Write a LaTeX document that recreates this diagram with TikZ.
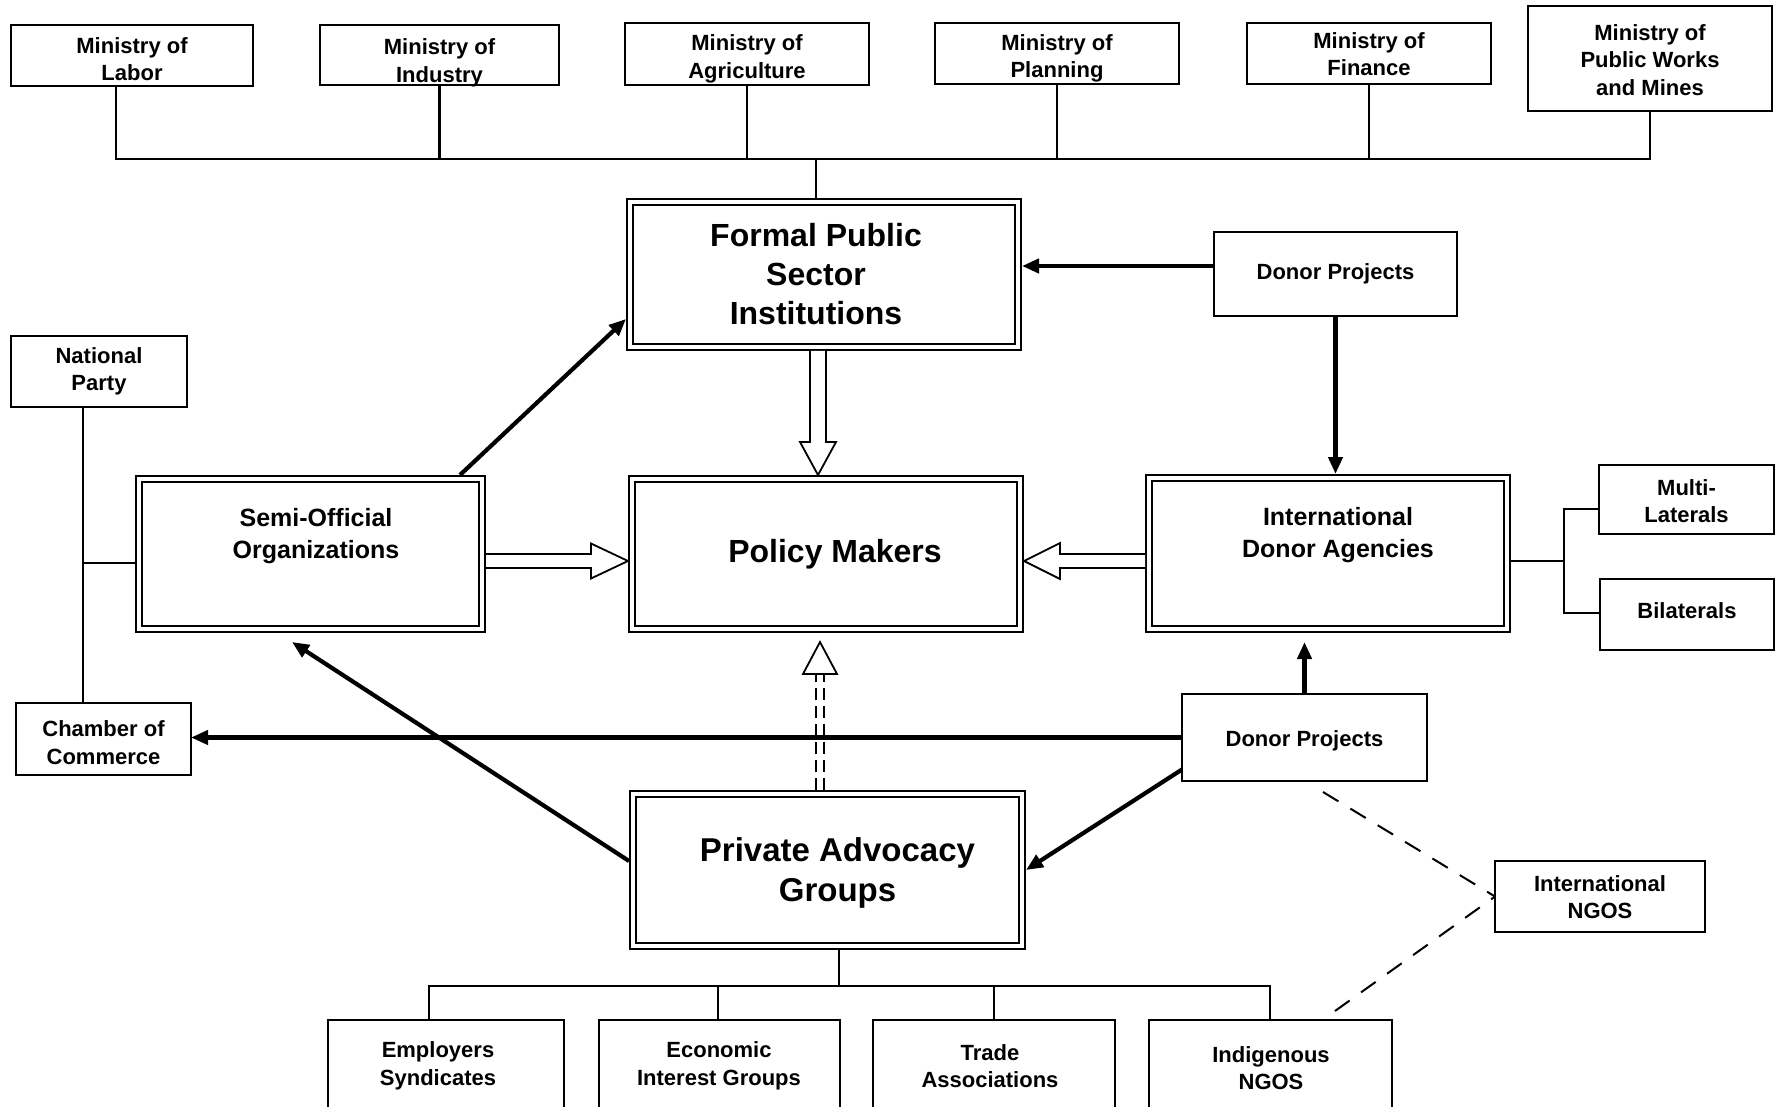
\documentclass[tikz,border=0pt]{standalone}
\usepackage{fontspec}
\setmainfont{Liberation Sans}
\usetikzlibrary{arrows.meta,calc}
\newcommand\fsmall{\fontsize{22}{27.5}\selectfont\bfseries}
\newcommand\fmed{\fontsize{25}{32}\selectfont\bfseries}
\newcommand\fbig{\fontsize{32}{39}\selectfont\bfseries}
\newcommand\fpag{\fontsize{33}{40}\selectfont\bfseries}
\newcommand\lowt[2]{\raisebox{-#1}[\height][\depth]{\begin{tabular}{@{}c@{}}#2\end{tabular}}}
\begin{document}
\begin{tikzpicture}[x=1pt,y=-1pt,
  box/.style={draw, line width=2.4pt, rectangle, inner sep=0pt, outer sep=0pt, align=center, font=\fsmall},
  dbox/.style={draw, line width=2pt, double, double distance=4pt, rectangle, inner sep=0pt, outer sep=4pt, align=center},
  lbl/.style={inner sep=0pt, align=center},
  conn/.style={line width=2.4pt},
  thinline/.style={line width=1.6pt},
  sarrow/.style={line width=4.2pt, -{Triangle[length=17pt,width=14pt]}},
  hollow/.style={line width=1.8pt, fill=white, line join=miter},
  dline/.style={line width=2pt, dash pattern=on 18pt off 14pt},
  ddline/.style={line width=2pt, dash pattern=on 12pt off 6pt},
]
\useasboundingbox[fill=white] (0,0) rectangle (1781,1107);

% ministries
\node[box, minimum width=242pt, minimum height=61pt] (labor) at (132,55.5) {\lowt{6pt}{Ministry of\\Labor}};
\node[box, minimum width=239pt, minimum height=60pt] (industry) at (439.5,55) {\lowt{8pt}{Ministry of\\Industry}};
\node[box, minimum width=244pt, minimum height=62pt] (agri) at (747,54) {\lowt{5pt}{Ministry of\\Agriculture}};
\node[box, minimum width=244pt, minimum height=61pt] (planning) at (1057,53.5) {\lowt{5pt}{Ministry of\\Planning}};
\node[box, minimum width=244pt, minimum height=61pt] (finance) at (1369,53.5) {\lowt{3pt}{Ministry of\\Finance}};
\node[box, minimum width=244pt, minimum height=105pt] (pubworks) at (1650,58.5) {\lowt{4pt}{Ministry of\\Public Works\\and Mines}};

% main boxes
\node[dbox, minimum width=388pt, minimum height=145pt, font=\fbig] (formal) at (824,274.5) {\lowt{3pt}{Formal Public\\Sector\\Institutions}\hspace*{16pt}};
\node[dbox, minimum width=388pt, minimum height=150pt, font=\fbig] (policy) at (826,554) {\hspace*{18pt}Policy Makers};
\node[dbox, minimum width=343pt, minimum height=150pt] (semi) at (310.5,554) {};
\node[lbl, font=\fmed] (semit) at (316,536) {Semi-Official\\Organizations};
\node[dbox, minimum width=358pt, minimum height=151pt] (ida) at (1328,553.5) {};
\node[lbl, font=\fmed] (idat) at (1338,535) {International\\Donor Agencies};
\node[dbox, minimum width=389pt, minimum height=152pt, font=\fpag] (pag) at (827.5,870) {\hspace*{20pt}\lowt{3pt}{Private Advocacy\\Groups}};

% small boxes
\node[box, minimum width=243pt, minimum height=84pt] (dp1) at (1335.5,274) {Donor Projects};
\node[box, minimum width=176pt, minimum height=71pt] (natparty) at (99,371.5) {National\\Party};
\node[box, minimum width=175pt, minimum height=72pt] (chamber) at (103.5,739) {\lowt{6pt}{Chamber of\\Commerce}};
\node[box, minimum width=175pt, minimum height=69pt] (multi) at (1686.5,499.5) {\lowt{4pt}{Multi-\\Laterals}};
\node[box, minimum width=174pt, minimum height=71pt] (bil) at (1687,614.5) {\lowt{-2pt}{Bilaterals}};
\node[box, minimum width=245pt, minimum height=87pt] (dp2) at (1304.5,737.5) {\lowt{3pt}{Donor Projects}};
\node[box, minimum width=210pt, minimum height=71pt] (ngos) at (1600,896.5) {\lowt{3pt}{International\\NGOS}};

% bottom boxes
\node[box, minimum width=236pt, minimum height=105pt] (emp) at (446,1072.5) {};
\node[lbl, font=\fsmall] (empt) at (438,1066) {Employers\\Syndicates};
\node[box, minimum width=241pt, minimum height=105pt] (eco) at (719.5,1072.5) {};
\node[lbl, font=\fsmall] (ecot) at (719,1066) {Economic\\Interest Groups};
\node[box, minimum width=242pt, minimum height=105pt] (trade) at (994,1072.5) {};
\node[lbl, font=\fsmall] (tradet) at (990,1066) {Trade\\Associations};
\node[box, minimum width=243pt, minimum height=105pt] (indig) at (1270.5,1072.5) {};
\node[lbl, font=\fsmall] (indigt) at (1271,1068) {Indigenous\\NGOS};

% ministry bus
\coordinate (busL) at (116,159);
\coordinate (busR) at (1650,159);
\coordinate (busF) at (816,159);
\draw[conn] (busL |- labor.south) -- (busL) -- (busR) -- (pubworks.south);
\draw[conn] (industry.south) -- (industry.south |- busL);
\draw[conn] (agri.south) -- (agri.south |- busL);
\draw[conn] (planning.south) -- (planning.south |- busL);
\draw[conn] (finance.south) -- (finance.south |- busL);
\draw[conn] (busF) -- (busF |- formal.north);

% national party - chamber
\coordinate (npx) at (83,563);
\draw[conn] (npx |- natparty.south) -- (npx |- chamber.north);
\draw[thinline] (npx) -- (npx -| semi.west);

% ida - multi/bilaterals
\coordinate (idaj) at (1564,561);
\coordinate (mj) at (1564,509);
\coordinate (bj) at (1564,613);
\draw[thinline] (idaj -| ida.east) -- (idaj);
\draw[conn] (mj -| multi.west) -- (mj) -- (bj) -- (bj -| bil.west);

% pag bus
\coordinate (pb) at (839,986);
\coordinate (pbL) at (429,986);
\coordinate (pbR) at (1270,986);
\coordinate (pe) at (718,986);
\draw[conn] (pb |- pag.south) -- (pb);
\draw[conn] (pbL |- emp.north) -- (pbL) -- (pbR) -- (pbR |- indig.north);
\draw[conn] (pe) -- (pe |- eco.north);
\draw[conn] (trade.north |- pbL) -- (trade.north);

% solid arrows
\coordinate (dp1a) at ($(dp1.west)+(0,-8)$);
\draw[sarrow] (dp1a) -- (dp1a -| formal.east);
\draw[sarrow] (dp1.south) -- (dp1.south |- ida.north);
\draw[sarrow] ($(semi.north west)+(325,0)$) -- ($(formal.west)+(0,44.5)$);
\draw[sarrow] ($(pag.west)+(0,-9)$) -- ($(semi.south west)+(157,9)$);
\draw[sarrow] (dp2.west) -- (dp2.west -| chamber.east);
\draw[sarrow] ($(dp2.west)+(0,32)$) -- (pag.east);
\coordinate (dp2t) at ($(dp2.north |- ida.south)+(0,9)$);
\draw[sarrow] (dp2.north) -- (dp2t);

% hollow block arrows
\coordinate (ax) at (818,0);
\coordinate (fA) at (ax |- formal.south);
\coordinate (fB) at (ax |- policy.north);
\draw[hollow] ($(fA)+(-8,0)$) -- ($(fB)+(-8,-33)$) -- ($(fB)+(-18,-33)$) -- (fB)
  -- ($(fB)+(18,-33)$) -- ($(fB)+(8,-33)$) -- ($(fA)+(8,0)$);

\coordinate (sA) at ($(semi.east)+(0,7)$);
\coordinate (sB) at (sA -| policy.west);
\draw[hollow] ($(sA)+(0,-7)$) -- ($(sB)+(-37,-7)$) -- ($(sB)+(-37,-17.5)$) -- (sB)
  -- ($(sB)+(-37,17.5)$) -- ($(sB)+(-37,7)$) -- ($(sA)+(0,7)$);

\coordinate (iA) at ($(ida.west)+(0,7.5)$);
\coordinate (iB) at (iA -| policy.east);
\draw[hollow] ($(iA)+(0,-7)$) -- ($(iB)+(36,-7)$) -- ($(iB)+(36,-18)$) -- (iB)
  -- ($(iB)+(36,18)$) -- ($(iB)+(36,7)$) -- ($(iA)+(0,7)$);

% dashed double arrow PAG -> policy
\coordinate (dx) at (820,0);
\coordinate (dA) at (dx |- pag.north);
\coordinate (dB0) at (dx |- policy.south);
\coordinate (dB) at ($(dB0)+(0,9)$);
\draw[ddline] ($(dA)+(-4,0)$) -- ($(dB)+(-4,32)$);
\draw[ddline] ($(dA)+(4,0)$) -- ($(dB)+(4,32)$);
\draw[hollow] (dB) -- ($(dB)+(-17,32)$) -- ($(dB)+(17,32)$) -- cycle;

% dashed lines to international NGOS
\coordinate (d1) at (1323,792);
\coordinate (d2) at (1335,1011);
\draw[dline] (d1) -- (ngos.west);
\draw[dline] (d2) -- (ngos.west);
\end{tikzpicture}
\end{document}
